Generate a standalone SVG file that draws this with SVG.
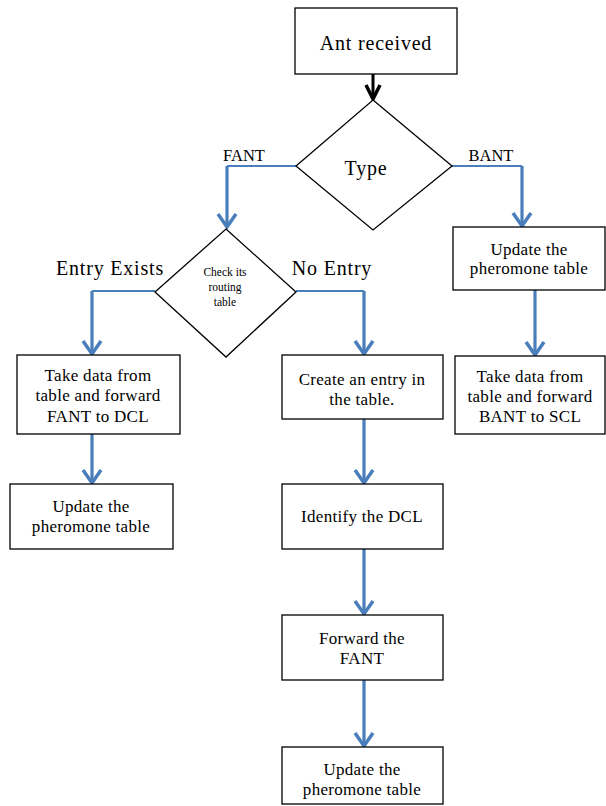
<svg xmlns="http://www.w3.org/2000/svg" width="606" height="806" viewBox="0 0 606 806">
<style>
.box{fill:#fff;stroke:#000;stroke-width:1.3}
.t{font-family:'Liberation Serif','Tinos','Times New Roman','DejaVu Serif',serif;fill:#000;text-anchor:middle}
.b{font-size:17px;letter-spacing:0.3px}
.lbl{font-size:20px;letter-spacing:0.8px}
.h{fill:none;stroke:#4a7ebb;stroke-width:2}
.v{fill:none;stroke:#4a7ebb;stroke-width:3.2}
</style>
<defs>
<marker id="ab" viewBox="-16 -12 20 24" refX="0" refY="0" markerWidth="20" markerHeight="24" markerUnits="userSpaceOnUse" orient="auto">
<path d="M-13,-9 L0,0 L-13,9" fill="none" stroke="#4a7ebb" stroke-width="3.5"/>
</marker>
<marker id="ak" viewBox="-16 -12 20 24" refX="0" refY="0" markerWidth="20" markerHeight="24" markerUnits="userSpaceOnUse" orient="auto">
<path d="M-14,-7 L0,0 L-14,7" fill="none" stroke="#000" stroke-width="3.5"/>
</marker>
</defs>
<g id="connectors">
<line x1="373" y1="74" x2="373" y2="99" stroke="#000" stroke-width="3" marker-end="url(#ak)"/>
<polyline class="h" points="296,166 227,166"/>
<line class="v" x1="227" y1="166" x2="227" y2="227" marker-end="url(#ab)"/>
<polyline class="h" points="452,166 522,166"/>
<line class="v" x1="522" y1="166" x2="522" y2="226" marker-end="url(#ab)"/>
<polyline class="h" points="155,291 92,291"/>
<line class="v" x1="92" y1="291" x2="92" y2="354" marker-end="url(#ab)"/>
<polyline class="h" points="296,291 364,291"/>
<line class="v" x1="364" y1="291" x2="364" y2="354" marker-end="url(#ab)"/>
<line class="v" x1="92" y1="434" x2="92" y2="483" marker-end="url(#ab)"/>
<line class="v" x1="535" y1="290" x2="535" y2="355" marker-end="url(#ab)"/>
<line class="v" x1="364" y1="419" x2="364" y2="483" marker-end="url(#ab)"/>
<line class="v" x1="364" y1="549" x2="364" y2="614" marker-end="url(#ab)"/>
<line class="v" x1="364" y1="680" x2="364" y2="746" marker-end="url(#ab)"/>
</g>
<g id="labels">
<text class="t" x="244" y="161" font-size="16.5">FANT</text>
<text class="t" x="491" y="161" font-size="16.5">BANT</text>
<text class="t lbl" x="110" y="275">Entry Exists</text>
<text class="t lbl" x="332" y="275">No Entry</text>
</g>
<g id="n-ant">
<rect class="box" x="295" y="8" width="162" height="66"/>
<text class="t lbl" x="376" y="50">Ant received</text>
</g>
<g id="n-type">
<polygon class="box" points="373,100 452,166 373,230 296,166"/>
<text class="t lbl" x="366" y="175">Type</text>
</g>
<g id="n-check">
<polygon class="box" points="226,229 296,292 226,357 155,292"/>
<text class="t" font-size="11.5" x="225" y="276">Check its</text>
<text class="t" font-size="11.5" x="225" y="291">routing</text>
<text class="t" font-size="11.5" x="225" y="306">table</text>
</g>
<g id="n-take-fant">
<rect class="box" x="17" y="355" width="163" height="79"/>
<text class="t b" x="98" y="381">Take data from</text>
<text class="t b" x="98" y="401">table and forward</text>
<text class="t b" x="98" y="422">FANT to DCL</text>
</g>
<g id="n-update-left">
<rect class="box" x="10" y="484" width="163" height="65"/>
<text class="t b" x="91" y="512">Update the</text>
<text class="t b" x="91" y="532">pheromone table</text>
</g>
<g id="n-create">
<rect class="box" x="282" y="355" width="161" height="64"/>
<text class="t b" x="362" y="385">Create an entry in</text>
<text class="t b" x="362" y="405">the table.</text>
</g>
<g id="n-identify">
<rect class="box" x="282" y="484" width="161" height="65"/>
<text class="t b" x="362" y="522">Identify the DCL</text>
</g>
<g id="n-forward">
<rect class="box" x="282" y="615" width="161" height="65"/>
<text class="t b" x="362" y="644">Forward the</text>
<text class="t b" x="362" y="664">FANT</text>
</g>
<g id="n-update-bottom">
<rect class="box" x="282" y="747" width="161" height="57"/>
<text class="t b" x="362" y="775">Update the</text>
<text class="t b" x="362" y="795">pheromone table</text>
</g>
<g id="n-update-right">
<rect class="box" x="453" y="227" width="152" height="63"/>
<text class="t b" x="529" y="255">Update the</text>
<text class="t b" x="529" y="274">pheromone table</text>
</g>
<g id="n-take-bant">
<rect class="box" x="455" y="356" width="150" height="78"/>
<text class="t b" x="530" y="382">Take data from</text>
<text class="t b" x="530" y="402">table and forward</text>
<text class="t b" x="530" y="422">BANT to SCL</text>
</g>
</svg>
